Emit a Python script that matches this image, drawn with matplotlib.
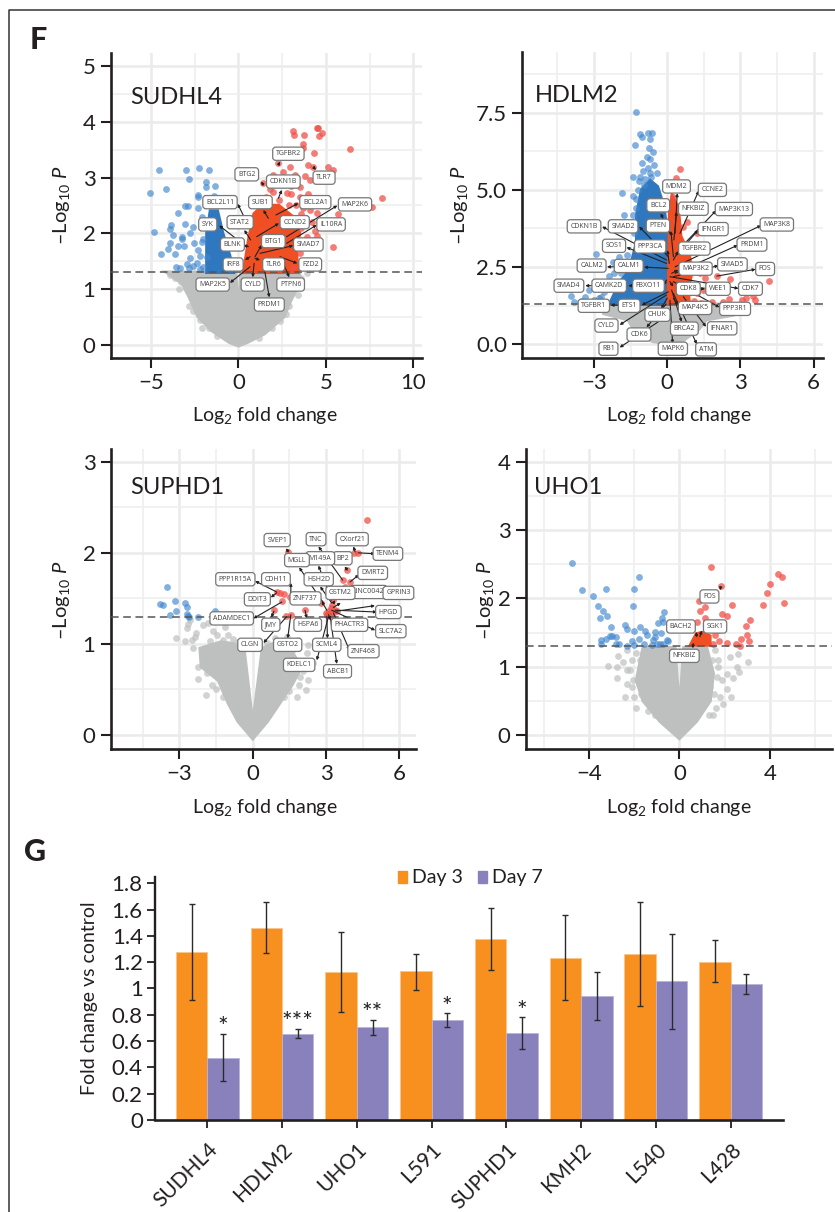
import matplotlib
matplotlib.use('Agg')
import matplotlib.pyplot as plt
from matplotlib.lines import Line2D
from matplotlib.patches import Rectangle

plt.rcParams['font.family'] = ['Lato', 'DejaVu Sans']
plt.rcParams['mathtext.fontset'] = 'custom'
plt.rcParams['mathtext.rm'] = 'Lato'
plt.rcParams['mathtext.it'] = 'Lato:italic'

W, H = 835, 1212
INK = '#231F20'
GRAY = '#BEC0BF'
BLUE = '#3F86CF'
BLUE_DARK = '#2F77BE'
RED = '#EF5148'
RED_DARK = '#F04E23'
THRESHOLD = 1.3

# dense part of each cloud, read as an outline of the picture
sudhl4_gray_area = [(-4.1, 1.3), (-3.2, 1.1), (-2.8, 0.85), (-2.3, 0.5), (-1.5, 0.25), (-0.5, 0.04), (0, -0.02),
                    (0.5, 0.04), (1.5, 0.2), (2.6, 0.5), (3.0, 0.8), (3.5, 1.1), (3.5, 1.3), (0.15, 1.3), (0, 0.4),
                    (-0.15, 1.3)]
sudhl4_blue_area = [(-1.8, 1.3), (-1.8, 2.0), (-1.6, 2.4), (-1.2, 2.4), (-0.9, 2.0), (-0.5, 1.6), (-0.3, 1.3)]
sudhl4_red_area = [(0.3, 1.3), (0.6, 1.9), (0.9, 2.35), (1.4, 2.5), (2.3, 2.5), (3.1, 2.3), (3.5, 2.0), (3.3, 1.7),
                   (3.4, 1.3)]
hdlm2_gray_area = [(-2.7, 1.3), (-2.6, 1.0), (-1.6, 0.8), (-1.3, 0.4), (-0.6, 0.1), (0, 0.02), (0.6, 0.1), (1.3, 0.5),
                   (1.6, 0.8), (2.7, 0.95), (2.8, 1.3)]
hdlm2_blue_area = [(-2.36, 1.3), (-1.95, 2.0), (-1.55, 2.4), (-1.25, 3.3), (-1.25, 4.2), (-1.05, 5.0), (-0.7, 5.3),
                   (-0.4, 5.1), (-0.16, 4.5), (-0.03, 3.8), (0, 1.3)]
hdlm2_red_area = [(0.04, 1.3), (0.1, 4.3), (0.2, 4.8), (0.45, 4.4), (0.55, 3.5), (0.9, 2.9), (1.0, 2.3), (0.85, 1.8),
                  (0.9, 1.3)]
suphd1_gray_area = [(0, -0.04), (-0.6, 0.15), (-1.0, 0.35), (-1.4, 0.6), (-2.1, 0.75), (-2.15, 0.95), (-1.3, 1.02),
                    (-0.75, 1.0), (-0.35, 0.92), (0, 0.12), (0.4, 0.95), (0.8, 1.0), (1.5, 0.95), (2.0, 0.75),
                    (1.6, 0.55), (1.1, 0.35), (0.6, 0.15)]
uho1_gray_area = [(0, -0.05), (-0.85, 0.2), (-1.6, 0.5), (-1.9, 0.8), (-1.6, 1.28), (-0.2, 1.28), (0, 0.33),
                  (0.2, 1.28), (1.2, 1.28), (1.5, 0.9), (1.36, 0.5), (0.75, 0.2)]
uho1_red_area = [(0.5, 1.32), (0.75, 1.48), (1.0, 1.5), (1.35, 1.45), (1.35, 1.32)]

# single points
sudhl4_gray = [(-3.9, 1.25), (-3.6, 1.2), (-3.3, 1.12), (-3.0, 1.02), (-2.7, 0.9), (-3.1, 1.2), (-2.8, 0.7),
               (-2.6, 0.6), (3.2, 1.0), (3.6, 1.2), (3.4, 0.9), (2.9, 0.7), (2.7, 0.55), (3.9, 1.28), (2.4, 0.42),
               (-2.2, 0.45), (-1.7, 0.3), (-3.4, 1.0), (-2.5, 0.75), (-2.1, 0.3), (1.9, 0.3), (-1.2, 0.15), (1.2, 0.12)]
sudhl4_blue = [(-4.55, 3.14), (-5.05, 2.73), (-4.11, 2.8), (-2.97, 3.14), (-2.82, 2.98), (-2.27, 3.17), (-1.7, 3.14),
               (-1.85, 2.92), (-1.85, 2.84), (-1.33, 2.85), (-2.32, 2.68), (-3.05, 2.49), (-3.43, 2.37), (-4.8, 2.02),
               (-3.87, 2.15), (-3.89, 2.08), (-4.44, 1.63), (-3.05, 2.17), (-3.75, 1.97), (-3.24, 1.93), (-3.89, 1.82),
               (-4.04, 1.72), (-3.62, 1.62), (-2.51, 1.82), (-2.1, 1.85), (-2.29, 1.7), (-3.1, 1.77), (-3.47, 1.78),
               (-3.58, 1.4), (-3.33, 1.38), (-2.76, 1.55), (-2.38, 1.46), (-2.95, 1.45), (-2.0, 1.4), (-1.81, 1.58),
               (-1.37, 2.67), (-2.29, 2.45), (-2.1, 2.3), (-2.57, 2.12), (-2.76, 2.0), (-2.9, 2.49), (-2.3, 2.65),
               (-3.2, 1.9), (-2.2, 1.6), (-2.6, 1.42), (-2.8, 1.38), (-2.2, 1.36), (-1.95, 2.2), (-2.0, 1.9)]
sudhl4_red = [(3.1, 3.84), (3.18, 3.77), (3.75, 3.76), (3.71, 3.6), (3.71, 3.54), (4.48, 3.89), (4.57, 3.9),
              (4.76, 3.81), (4.63, 3.75), (4.32, 3.44), (6.4, 3.52), (8.23, 2.63), (7.64, 2.48), (5.71, 2.35),
              (5.39, 1.76), (5.1, 3.2), (5.39, 3.14), (4.0, 3.23), (4.29, 3.2), (2.29, 3.26), (2.95, 3.2), (2.0, 3.05),
              (1.43, 2.9), (3.81, 3.03), (4.1, 2.96), (5.05, 2.96), (2.57, 3.1), (3.24, 3.05), (3.52, 2.84),
              (2.76, 2.72), (4.1, 2.42), (4.48, 2.36), (4.38, 2.05), (4.29, 2.54), (3.9, 1.94), (3.52, 1.64),
              (3.14, 1.4), (2.5, 2.98), (3.0, 2.85), (1.8, 2.8), (4.0, 2.7), (3.7, 2.45), (4.2, 2.2), (3.9, 1.5),
              (2.0, 2.75), (1.6, 2.65), (2.3, 2.6), (2.9, 2.5), (3.3, 2.5), (3.6, 2.35), (3.0, 2.7), (1.2, 2.55),
              (3.8, 2.25), (4.1, 1.75), (3.8, 1.75), (4.3, 1.85), (4.5, 1.95), (3.6, 2.1), (3.7, 1.45), (3.5, 2.65)]
hdlm2_blue = [(-1.27, 7.53), (-1.12, 6.82), (-1.03, 6.71), (-0.78, 6.85), (-0.63, 6.85), (-0.7, 6.63), (-1.33, 6.45),
              (-0.75, 6.34), (-0.58, 6.24), (-0.85, 6.07), (-1.05, 5.86), (-0.41, 5.53), (-1.41, 5.42), (-1.85, 4.91),
              (-1.42, 4.81), (-1.78, 4.19), (-2.93, 2.94), (-1.97, 2.84), (-2.22, 2.65), (-2.19, 2.3), (-3.93, 1.57),
              (-3.84, 1.38), (-3.38, 1.54), (-2.7, 1.52), (-3.5, 1.4), (-3.2, 1.75), (-1.1, 5.4), (-0.95, 5.15),
              (-1.2, 5.0), (-1.3, 4.4), (-0.7, 6.0), (-0.8, 5.7), (-1.3, 4.7), (-1.15, 5.3), (-0.9, 5.35), (-0.65, 5.4),
              (-0.55, 5.8), (-0.7, 5.55), (-1.0, 5.6), (-1.4, 4.2), (-1.45, 3.9), (-1.35, 3.6), (-1.65, 2.9),
              (-2.0, 2.5), (-2.4, 2.2), (-2.6, 1.7), (-2.8, 1.5), (-3.0, 1.45), (-1.9, 2.3)]
hdlm2_red = [(0.52, 5.67), (0.36, 5.39), (0.38, 5.19), (0.25, 4.78), (0.82, 3.95), (0.66, 3.81), (2.03, 2.21),
             (2.58, 2.1), (4.15, 2.04), (1.55, 2.14), (1.75, 1.76), (1.82, 1.38), (2.51, 1.47), (3.05, 1.43),
             (3.22, 1.49), (3.6, 1.43), (3.5, 1.56), (1.48, 1.76), (1.2, 1.65), (2.3, 1.38), (1.34, 2.3), (0.93, 3.16),
             (1.2, 3.6), (1.1, 1.4), (1.4, 1.35)]
suphd1_gray = [(-3.14, 1.07), (-2.7, 1.17), (-2.56, 1.26), (-2.63, 1.22), (-2.02, 1.21), (-1.81, 1.23), (-1.61, 1.14),
               (-2.36, 1.08), (-2.5, 1.04), (-2.77, 1.03), (-2.43, 0.96), (-1.75, 1.03), (-1.47, 0.97), (-1.2, 1.04),
               (-1.13, 1.19), (-1.92, 0.44), (-2.22, 0.62), (-2.22, 0.75), (-1.88, 0.68), (2.18, 0.49), (2.28, 0.6),
               (1.94, 0.64), (2.14, 0.79), (2.28, 0.99), (1.87, 1.04), (1.39, 1.08), (0.91, 1.06), (0.57, 1.01),
               (2.21, 0.9), (1.8, 0.42), (2.48, 0.79), (-1.7, 0.9), (-1.5, 0.75), (-2.0, 0.9), (-1.3, 0.8), (-1.0, 1.1),
               (-0.8, 1.05), (-0.6, 1.02), (-0.4, 0.98), (0.6, 0.92), (0.9, 0.98), (1.2, 1.0), (1.6, 0.92), (1.75, 0.8),
               (1.9, 0.55), (1.5, 0.48), (1.3, 0.42), (-1.5, 0.5), (-1.65, 0.55), (-1.2, 0.42), (2.05, 0.7),
               (-2.3, 1.12), (-1.45, 1.1)]
suphd1_blue = [(-3.52, 1.62), (-3.78, 1.44), (-3.68, 1.43), (-3.19, 1.47), (-2.77, 1.45), (-3.12, 1.36), (-2.7, 1.4),
               (-3.37, 1.32), (-2.67, 1.33), (-2.65, 1.31), (-2.59, 1.3), (-2.25, 1.3), (-1.54, 1.36)]
suphd1_red = [(4.67, 2.36), (1.46, 2.01), (4.15, 2.0), (4.32, 2.0), (3.87, 1.81), (3.68, 1.7), (3.98, 1.68),
              (3.78, 1.62), (0.98, 1.57), (1.12, 1.56), (1.28, 1.55), (1.53, 1.52), (1.19, 1.47), (2.8, 1.45),
              (0.87, 1.37), (2.14, 1.37), (1.36, 1.31), (1.56, 1.32), (3.3, 1.48), (3.23, 1.43), (3.37, 1.37),
              (3.03, 1.32), (3.14, 1.36), (3.1, 1.33), (3.19, 1.39), (3.0, 1.34), (3.27, 1.34), (3.44, 1.36),
              (3.17, 1.31)]
uho1_gray = [(-3.14, 1.01), (-2.77, 0.84), (-2.4, 0.56), (-2.33, 0.74), (-2.7, 1.16), (-2.48, 1.07), (-2.74, 1.0),
             (-2.11, 1.1), (-2.18, 0.95), (-2.04, 0.8), (-2.33, 1.25), (3.02, 1.07), (2.61, 1.18), (2.65, 0.93),
             (2.39, 0.83), (2.12, 0.89), (2.27, 0.56), (1.92, 0.46), (1.8, 0.56), (2.09, 0.68), (1.65, 0.85),
             (1.58, 1.25), (1.73, 1.1), (1.36, 0.71), (2.24, 1.15), (2.54, 1.0), (-2.0, 0.55), (-1.9, 0.4), (-1.7, 0.6),
             (-2.1, 0.7), (-1.75, 1.1), (-1.9, 1.2), (-1.6, 1.2), (-2.3, 0.95), (-1.4, 0.35), (1.55, 0.6), (1.6, 0.4),
             (1.45, 1.1), (1.5, 0.3), (1.9, 0.8), (1.3, 0.3), (-1.1, 0.3), (1.7, 1.0)]
uho1_blue = [(-4.73, 2.52), (-4.29, 2.12), (-3.83, 2.03), (-3.23, 2.14), (-1.8, 2.32), (-2.01, 2.14), (-2.04, 1.89),
             (-3.6, 1.89), (-3.36, 1.82), (-3.22, 1.75), (-3.51, 1.71), (-3.02, 1.58), (-2.4, 1.61), (-2.32, 1.56),
             (-2.01, 1.52), (-1.74, 1.58), (-1.5, 1.53), (-1.45, 1.46), (-3.47, 1.39), (-3.24, 1.41), (-3.07, 1.45),
             (-2.96, 1.45), (-2.8, 1.43), (-3.48, 1.33), (-2.8, 1.33), (-2.65, 1.33), (-2.33, 1.31), (-2.09, 1.37),
             (-2.01, 1.32), (-1.78, 1.4), (-1.56, 1.34), (-0.66, 1.8), (-0.78, 1.71), (-0.71, 1.66), (-0.93, 1.64),
             (-1.08, 1.51), (-1.08, 1.44), (-0.81, 1.49), (-1.15, 1.39), (-1.0, 1.34), (-1.22, 1.32), (-0.71, 1.34),
             (-0.56, 1.39), (-0.49, 1.37), (-0.86, 1.33)]
uho1_red = [(1.39, 2.46), (1.83, 2.18), (0.87, 1.96), (1.12, 1.87), (0.91, 1.81), (1.12, 1.72), (1.89, 1.78),
            (2.09, 1.74), (2.33, 1.9), (3.13, 1.69), (2.94, 1.59), (2.98, 1.46), (3.08, 1.37), (2.71, 1.41),
            (2.51, 1.33), (2.68, 1.31), (2.12, 1.35), (1.77, 1.38), (1.5, 1.33), (1.58, 1.46), (1.73, 1.54),
            (4.35, 2.36), (4.54, 2.32), (4.03, 2.21), (3.89, 2.08), (3.72, 1.91), (4.63, 1.94), (0.77, 1.65)]

# gene, label centre, arrow tip, point the arrow leaves from
sudhl4_genes = [
    ('TGFBR2', 2.86, 3.43, 2.38, 3.29, 2.29, 3.23), ('BTG2', 0.48, 3.06, 1.30, 2.93, 1.43, 2.87),
    ('CDKN1B', 2.57, 2.93, 2.48, 2.78, 2.29, 2.63), ('TLR7', 4.9, 3.0, 4.44, 3.14, 4.29, 3.19),
    ('BCL2L11', -1.05, 2.56, -0.04, 2.53, 0.32, 2.3), ('SUB1', 1.26, 2.56, 1.43, 2.42, 1.71, 2.27),
    ('BCL2A1', 4.4, 2.56, 3.43, 2.54, 2.15, 2.33), ('MAP2K6', 6.67, 2.52, 5.66, 2.5, 2.76, 1.94),
    ('STAT2', 0.1, 2.2, 0.34, 2.06, 0.7, 1.88), ('SYK', -1.75, 2.16, -1.1, 2.14, 0.1, 1.85),
    ('CCND2', 3.22, 2.2, 2.32, 2.18, 1.05, 1.94), ('IL10RA', 5.3, 2.16, 4.48, 2.15, 2.76, 1.82),
    ('BLNK', -0.34, 1.8, 0.29, 1.79, 0.57, 1.76), ('BTG1', 2.0, 1.86, 1.33, 1.79, 0.95, 1.58),
    ('SMAD7', 4.0, 1.8, 3.14, 1.78, 1.24, 1.64), ('IRF8', -0.3, 1.44, 0.38, 1.52, 0.67, 1.58),
    ('TLR6', 2.02, 1.44, 1.24, 1.52, 0.95, 1.55), ('FZD2', 4.11, 1.44, 3.37, 1.46, 2.38, 1.58),
    ('MAP2K5', -1.47, 1.08, -0.48, 1.11, 0.67, 1.4), ('CYLD', 0.82, 1.08, 0.82, 1.21, 0.9, 1.46),
    ('PTPN6', 2.99, 1.08, 2.91, 1.21, 2.57, 1.46), ('PRDM1', 1.77, 0.72, 1.77, 0.85, 1.43, 1.46),
]
hdlm2_genes = [
    ('MDM2', 0.38, 5.11, 0.41, 4.89, 0.32, 3.59), ('CCNE2', 1.85, 5.0, 1.29, 4.97, 0.52, 3.59),
    ('BCL2', -0.37, 4.5, -0.27, 4.24, 0.11, 3.59), ('NFKBIZ', 1.07, 4.39, 0.38, 4.29, 0.27, 3.38),
    ('MAP3K13', 2.73, 4.38, 2.0, 4.33, 0.45, 3.05), ('CDKN1B', -3.41, 3.82, -2.67, 3.81, -0.03, 2.73),
    ('SMAD2', -1.81, 3.82, -1.15, 3.81, 0.04, 2.84), ('PTEN', -0.38, 3.84, 0.15, 3.67, 0.25, 2.84),
    ('IFNGR1', 1.88, 3.73, 1.27, 3.7, 0.38, 2.89), ('MAP3K8', 4.49, 3.88, 3.85, 3.85, 0.32, 2.51),
    ('SOS1', -2.18, 3.19, -1.67, 3.14, -0.03, 2.62), ('PPP3CA', -0.7, 3.17, 0.01, 3.05, 0.08, 2.62),
    ('TGFBR2', 1.11, 3.1, 0.45, 3.02, 0.25, 2.73), ('PRDM1', 3.47, 3.23, 2.89, 3.21, 0.32, 2.3),
    ('CALM2', -3.1, 2.55, -2.47, 2.51, -2.08, 2.51), ('CALM1', -1.58, 2.54, -0.95, 2.5, 0.04, 2.46),
    ('MAP3K2', 1.16, 2.45, 0.45, 2.41, 0.18, 2.3), ('SMAD5', 2.67, 2.59, 2.1, 2.55, 0.25, 2.19),
    ('FOS', 4.01, 2.44, 3.62, 2.43, 2.03, 2.21), ('SMAD4', -4.03, 1.9, -3.36, 1.9, -3.04, 1.9),
    ('CAMK2D', -2.38, 1.9, -1.6, 1.9, -1.37, 1.9), ('FBXO11', -0.77, 1.9, -0.16, 1.92, -0.03, 2.08),
    ('CDK8', 0.86, 1.8, 0.25, 1.87, 0.11, 2.03), ('WEE1', 2.08, 1.8, 1.55, 1.8, 1.34, 1.8),
    ('CDK7', 3.41, 1.8, 2.92, 1.81, 0.11, 2.19), ('TGFBR1', -3.01, 1.25, -2.32, 1.27, -2.01, 1.27),
    ('ETS1', -1.56, 1.25, -1.05, 1.27, 0.04, 1.7), ('MAP4K5', 1.14, 1.18, 0.45, 1.27, 0.25, 1.49),
    ('PPP3R1', 2.78, 1.15, 2.14, 1.2, 0.25, 2.03), ('CYLD', -2.49, 0.61, -1.95, 0.63, -0.03, 1.6),
    ('CDK6', -1.16, 0.32, -0.85, 0.55, -0.05, 1.3), ('RB1', -2.41, -0.14, -1.95, -0.1, -0.37, 0.73),
    ('CHUK', -0.4, 0.96, -0.25, 1.15, 0.0, 1.5), ('BRCA2', 0.7, 0.51, 0.59, 0.73, 0.18, 1.76),
    ('IFNAR1', 2.25, 0.52, 1.59, 0.57, 0.66, 1.54), ('MAPK6', 0.23, -0.14, 0.22, 0.03, 0.11, 1.43),
    ('ATM', 1.59, -0.16, 1.21, 0.01, 0.25, 1.65),
]
# M149A and BP2 keep only the part of the name that the picture shows
suphd1_genes = [
    ('SVEP1', 1.0, 2.14, 1.36, 2.05, 1.46, 2.01), ('TNC', 2.59, 2.15, 2.69, 2.07, 3.68, 1.7),
    ('CXorf21', 4.07, 2.15, 4.12, 2.07, 4.19, 2.01), ('TENM4', 5.53, 1.99, 5.01, 1.99, 4.32, 2.0),
    ('BP2', 3.68, 1.94, 3.76, 1.85, 3.87, 1.81), ('M149A', 2.76, 1.94, 2.69, 1.86, 3.23, 1.48),
    ('MGLL', 1.81, 1.92, 1.9, 1.84, 2.89, 1.45), ('DMRT2', 4.91, 1.78, 4.35, 1.76, 3.98, 1.68),
    ('PPP1R15A', -0.71, 1.71, 0.1, 1.69, 0.98, 1.57), ('CDH11', 0.95, 1.71, 1.56, 1.67, 1.56, 1.54),
    ('HSH2D', 2.7, 1.71, 2.76, 1.63, 3.23, 1.45), ('LINC0042', 4.73, 1.57, 3.6, 1.45, 3.3, 1.4),
    ('GPRIN3', 5.96, 1.56, 5.0, 1.42, 3.44, 1.36), ('GSTM2', 3.59, 1.56, 3.37, 1.48, 3.3, 1.45),
    ('ZNF737', 2.16, 1.5, 2.82, 1.47, 3.03, 1.37), ('DDIT3', 0.19, 1.49, 0.74, 1.51, 0.98, 1.56),
    ('ADAMDEC1', -0.86, 1.28, 0.03, 1.28, 1.19, 1.46), ('HPGD', 5.55, 1.35, 5.08, 1.35, 3.37, 1.37),
    ('JMY', 0.74, 1.21, 0.76, 1.29, 0.87, 1.36), ('HSPA6', 2.25, 1.21, 2.21, 1.28, 2.14, 1.37),
    ('PHACTR3', 3.96, 1.21, 3.19, 1.26, 3.1, 1.32), ('SLC7A2', 5.65, 1.14, 5.01, 1.15, 3.23, 1.37),
    ('CLGN', -0.11, 0.99, 0.44, 1.01, 1.39, 1.3), ('GSTO2', 1.43, 0.99, 1.43, 1.06, 1.56, 1.32),
    ('ZNF468', 4.53, 0.92, 3.96, 0.93, 3.3, 1.34), ('KDELC1', 1.9, 0.77, 2.62, 0.82, 3.1, 1.3),
    ('ABCB1', 3.47, 0.7, 3.44, 0.78, 3.17, 1.3), ('SCML4', 3.03, 0.99, 3.06, 1.06, 3.03, 1.3),
]
uho1_genes = [
    ('FOS', 1.33, 2.03, 1.8, 2.12, 1.83, 2.17), ('BACH2', 0.07, 1.59, 0.74, 1.51, 0.77, 1.44),
    ('SGK1', 1.58, 1.59, 0.99, 1.53, 0.91, 1.44), ('NFKBIZ', 0.22, 1.16, 0.59, 1.27, 0.62, 1.34),
]

# panel G
cell_lines = ['SUDHL4', 'HDLM2', 'UHO1', 'L591', 'SUPHD1', 'KMH2', 'L540', 'L428']
day3 = [1.275, 1.46, 1.125, 1.13, 1.38, 1.235, 1.265, 1.205]
day7 = [0.475, 0.655, 0.705, 0.76, 0.66, 0.945, 1.055, 1.035]
day3_top = [1.64, 1.655, 1.43, 1.265, 1.615, 1.56, 1.66, 1.365]
day3_low = [0.91, 1.27, 0.82, 0.99, 1.14, 0.915, 0.87, 1.05]
day7_top = [0.655, 0.695, 0.76, 0.81, 0.78, 1.125, 1.415, 1.11]
day7_low = [0.30, 0.62, 0.65, 0.71, 0.54, 0.76, 0.695, 0.96]
stars = ['*', '***', '**', '*', '*', '', '', '']


def ejes(fig, left, top, right, bottom):
    return fig.add_axes([left / W, 1 - bottom / H, (right - left) / W, (bottom - top) / H])


def estilo(ax, xmajor, ymajor, xminor, yminor, xlim, ylim):
    ax.set_xlim(*xlim)
    ax.set_ylim(*ylim)
    ax.set_xticks(xmajor)
    ax.set_yticks(ymajor)
    ax.set_xticks(xminor, minor=True)
    ax.set_yticks(yminor, minor=True)
    ax.grid(True, which='major', color='#EBEBEB', lw=1.8, zorder=0)
    ax.grid(True, which='minor', color='#EFEFEF', lw=1.2, zorder=0)
    ax.set_axisbelow(True)
    ax.spines['top'].set_visible(False)
    ax.spines['right'].set_visible(False)
    ax.spines['left'].set_linewidth(1.9)
    ax.spines['bottom'].set_linewidth(1.9)
    ax.spines['left'].set_color(INK)
    ax.spines['bottom'].set_color(INK)
    ax.tick_params(which='major', length=7, width=1.5, color=INK, labelcolor=INK, labelsize=16, pad=4)
    ax.tick_params(which='minor', length=0)


def puntos(ax, datos, color, alpha, z):
    ax.scatter([p[0] for p in datos], [p[1] for p in datos], s=24, color=color, alpha=alpha, lw=0, zorder=z)


def area(ax, contorno, color, z):
    ax.fill([p[0] for p in contorno], [p[1] for p in contorno], color=color, lw=2.5, ec=color, zorder=z)


def etiquetas(ax, genes):
    # las flechas van debajo de las cajas
    for i, (gen, lx, ly, tx, ty, ox, oy) in enumerate(genes):
        ax.annotate('', xy=(tx, ty), xytext=(ox, oy), annotation_clip=False, zorder=6,
                    arrowprops=dict(arrowstyle='-|>', color='#222222', lw=0.8, mutation_scale=4,
                                    shrinkA=0, shrinkB=0))
        ax.text(lx, ly, gen, fontsize=5, color='#444444', ha='center', va='center', zorder=7 + i * 0.01,
                family=['Open Sans', 'DejaVu Sans'],
                bbox=dict(boxstyle='round,pad=0.45', fc='white', ec='#777777', lw=0.9))


def volcano(ax, titulo, title_x, title_y, gray_area, blue_area, red_area, gray, blue, red, genes):
    if gray_area:
        area(ax, gray_area, GRAY, 2)
    puntos(ax, gray, GRAY, 0.7, 2)
    if blue_area:
        area(ax, blue_area, BLUE_DARK, 3)
    puntos(ax, blue, BLUE, 0.65, 3)
    if red_area:
        area(ax, red_area, RED_DARK, 3)
    puntos(ax, red, RED, 0.75, 3)
    ax.axhline(THRESHOLD, color='#555555', lw=1.1, ls=(0, (5, 3)), zorder=4)
    etiquetas(ax, genes)
    ax.text(title_x, title_y, titulo, fontsize=17, color=INK, ha='left', va='center',
            transform=ax.figure.transFigure, zorder=9)


fig = plt.figure(figsize=(W / 100, H / 100), dpi=100)

# marco de la figura
fig.add_artist(Line2D([8.5 / W, 8.5 / W, 1], [0, 1 - 9.5 / H, 1 - 9.5 / H], color='#333333', lw=1.1))
fig.text(30 / W, 1 - 40 / H, 'F', fontsize=22, fontweight='black', color=INK, va='center')
fig.text(24 / W, 1 - 852 / H, 'G', fontsize=22, fontweight='black', color=INK, va='center')

ylabel = '\u2013Log$_{10}$ $\\it{P}$'
xlabel = 'Log$_{2}$ fold change'

ax1 = ejes(fig, 110.7, 53, 422, 358)
estilo(ax1, [-5, 0, 5, 10], [0, 1, 2, 3, 4, 5], [-2.5, 2.5, 7.5], [0.5, 1.5, 2.5, 3.5, 4.5], (-7.3, 10.5), (-0.24, 5.24))
volcano(ax1, 'SUDHL4', 130 / W, 1 - 98 / H, sudhl4_gray_area, sudhl4_blue_area, sudhl4_red_area,
        sudhl4_gray, sudhl4_blue, sudhl4_red, sudhl4_genes)

ax2 = ejes(fig, 522.3, 52, 822.7, 357.7)
estilo(ax2, [-3, 0, 3, 6], [0, 2.5, 5, 7.5], [-4.5, -1.5, 1.5, 4.5], [1.25, 3.75, 6.25, 8.75], (-5.94, 6.37), (-0.43, 9.46))
ax2.set_yticklabels(['0.0', '2.5', '5.0', '7.5'])
volcano(ax2, 'HDLM2', 535 / W, 1 - 95 / H, hdlm2_gray_area, hdlm2_blue_area, hdlm2_red_area,
        [], hdlm2_blue, hdlm2_red, hdlm2_genes)

ax3 = ejes(fig, 110.7, 449, 416, 749)
estilo(ax3, [-3, 0, 3, 6], [0, 1, 2, 3], [-4.5, -1.5, 1.5, 4.5], [0.5, 1.5, 2.5], (-5.81, 6.68), (-0.154, 3.14))
volcano(ax3, 'SUPHD1', 130 / W, 1 - 488 / H, suphd1_gray_area, None, None,
        suphd1_gray, suphd1_blue, suphd1_red, suphd1_genes)

ax4 = ejes(fig, 525.7, 449, 831.7, 749)
estilo(ax4, [-4, 0, 4], [0, 1, 2, 3, 4], [-6, -2, 2, 6], [0.5, 1.5, 2.5, 3.5], (-6.8, 6.74), (-0.205, 4.19))
volcano(ax4, 'UHO1', 534 / W, 1 - 488 / H, uho1_gray_area, None, uho1_red_area,
        uho1_gray, uho1_blue, uho1_red, uho1_genes)

for ax, ypos, centro in [(ax1, 62, 205), (ax2, 460, 205), (ax3, 62, 600), (ax4, 486, 600)]:
    fig.text(ypos / W, 1 - centro / H, ylabel, fontsize=14.5, color=INK, rotation=90, ha='center', va='center')
for xpos, fila in [(265, 415), (679, 415), (265, 808), (679, 808)]:
    fig.text(xpos / W, 1 - fila / H, xlabel, fontsize=14, color=INK, ha='center', va='center')

# panel G, barras
ax5 = ejes(fig, 155.3, 876.7, 783, 1120)
ax5.set_xlim(-0.695, 7.70)
ax5.set_ylim(0, 1.85)
width = 0.42
pos = list(range(len(cell_lines)))
x3 = [p - width / 2 for p in pos]
x7 = [p + width / 2 for p in pos]
ax5.bar(x3, day3, width, color='#F7901E', edgecolor='#FBC58A', lw=0.6, zorder=2)
ax5.bar(x7, day7, width, color='#8881BC', edgecolor='#B9B5D8', lw=0.6, zorder=2)
err = dict(fmt='none', ecolor='#2B2B2B', elinewidth=1.0, capsize=2.5, capthick=1.0, zorder=3)
ax5.errorbar(x3, day3, yerr=[[v - l for v, l in zip(day3, day3_low)], [t - v for v, t in zip(day3, day3_top)]], **err)
ax5.errorbar(x7, day7, yerr=[[v - l for v, l in zip(day7, day7_low)], [t - v for v, t in zip(day7, day7_top)]], **err)
for x, t, s in zip(x7, day7_top, stars):
    if s:
        ax5.text(x, t - 0.04, s, fontsize=18, color=INK, ha='center', va='bottom')
ax5.spines['top'].set_visible(False)
ax5.spines['right'].set_visible(False)
ax5.spines['left'].set_linewidth(1.7)
ax5.spines['bottom'].set_linewidth(1.9)
ax5.spines['left'].set_color(INK)
ax5.spines['bottom'].set_color(INK)
ax5.set_yticks([0, 0.2, 0.4, 0.6, 0.8, 1, 1.2, 1.4, 1.6, 1.8])
ax5.set_yticklabels(['0', '0.2', '0.4', '0.6', '0.8', '1', '1.2', '1.4', '1.6', '1.8'])
ax5.set_xticks(pos)
ax5.set_xticklabels(cell_lines, rotation=45, ha='right', rotation_mode='anchor')
ax5.tick_params(axis='both', length=6, width=1.3, color=INK, labelcolor=INK, labelsize=16, pad=3)
ax5.tick_params(axis='x', pad=8, labelsize=15)
fig.text(90 / W, 1 - 998 / H, 'Fold change vs control', fontsize=14, color=INK, rotation=90, ha='center', va='center')

# leyenda a mano, arriba del panel
fig.add_artist(Rectangle((398 / W, 1 - 883 / H), 9 / W, 12 / H, color='#F7901E', transform=fig.transFigure))
fig.text(412 / W, 1 - 877 / H, 'Day 3', fontsize=14, color=INK, va='center')
fig.add_artist(Rectangle((478 / W, 1 - 883 / H), 9 / W, 12 / H, color='#8881BC', transform=fig.transFigure))
fig.text(492 / W, 1 - 877 / H, 'Day 7', fontsize=14, color=INK, va='center')

fig.savefig('out.png', dpi=100)
